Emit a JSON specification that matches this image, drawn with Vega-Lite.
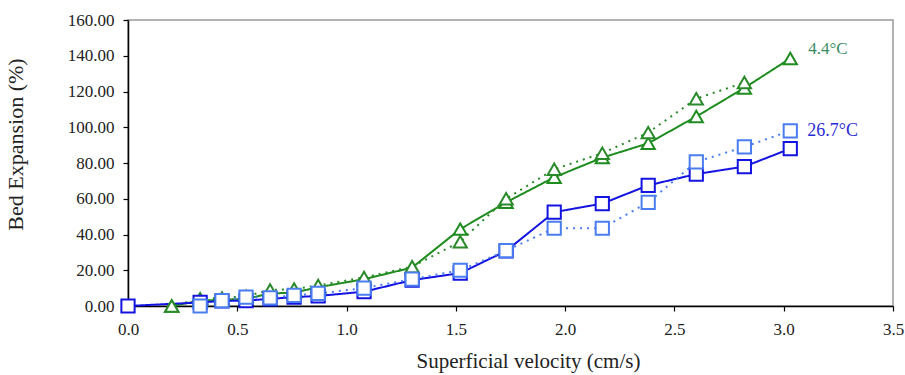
{
  "$schema": "https://vega.github.io/schema/vega-lite/v6.json",
  "width": 765,
  "height": 286,
  "autosize": {"type": "none"},
  "padding": {"left": 128, "top": 20, "right": 12, "bottom": 69},
  "background": "white",
  "config": {
    "view": {"stroke": "#999999", "strokeWidth": 1.5},
    "font": "Liberation Serif",
    "axis": {
      "labelFont": "Liberation Serif",
      "titleFont": "Liberation Serif",
      "labelColor": "#222222",
      "titleColor": "#222222",
      "titleFontWeight": "normal",
      "domainColor": "#000000",
      "tickColor": "#000000",
      "domainWidth": 1.5,
      "tickWidth": 1.2,
      "labelFlush": false,
      "grid": false
    }
  },
  "data": {
    "values": [
      {"velocity": 0.2, "expansion": 0, "series": "4.4°C run 1"},
      {"velocity": 0.33, "expansion": 3, "series": "4.4°C run 1"},
      {"velocity": 0.43, "expansion": 3.5, "series": "4.4°C run 1"},
      {"velocity": 0.54, "expansion": 4, "series": "4.4°C run 1"},
      {"velocity": 0.65, "expansion": 7, "series": "4.4°C run 1"},
      {"velocity": 0.76, "expansion": 7.5, "series": "4.4°C run 1"},
      {"velocity": 0.87, "expansion": 10.5, "series": "4.4°C run 1"},
      {"velocity": 1.08, "expansion": 15, "series": "4.4°C run 1"},
      {"velocity": 1.3, "expansion": 21.5, "series": "4.4°C run 1"},
      {"velocity": 1.52, "expansion": 43, "series": "4.4°C run 1"},
      {"velocity": 1.73, "expansion": 58, "series": "4.4°C run 1"},
      {"velocity": 1.95, "expansion": 72, "series": "4.4°C run 1"},
      {"velocity": 2.17, "expansion": 83, "series": "4.4°C run 1"},
      {"velocity": 2.38, "expansion": 91, "series": "4.4°C run 1"},
      {"velocity": 2.6, "expansion": 106, "series": "4.4°C run 1"},
      {"velocity": 2.82, "expansion": 122, "series": "4.4°C run 1"},
      {"velocity": 3.03, "expansion": 138.5, "series": "4.4°C run 1"},
      {"velocity": 0.2, "expansion": 0, "series": "4.4°C run 2"},
      {"velocity": 0.33, "expansion": 4, "series": "4.4°C run 2"},
      {"velocity": 0.43, "expansion": 4.5, "series": "4.4°C run 2"},
      {"velocity": 0.54, "expansion": 5.5, "series": "4.4°C run 2"},
      {"velocity": 0.65, "expansion": 9, "series": "4.4°C run 2"},
      {"velocity": 0.76, "expansion": 9.5, "series": "4.4°C run 2"},
      {"velocity": 0.87, "expansion": 11.5, "series": "4.4°C run 2"},
      {"velocity": 1.08, "expansion": 16, "series": "4.4°C run 2"},
      {"velocity": 1.3, "expansion": 22, "series": "4.4°C run 2"},
      {"velocity": 1.52, "expansion": 36, "series": "4.4°C run 2"},
      {"velocity": 1.73, "expansion": 60, "series": "4.4°C run 2"},
      {"velocity": 1.95, "expansion": 76.5, "series": "4.4°C run 2"},
      {"velocity": 2.17, "expansion": 85.5, "series": "4.4°C run 2"},
      {"velocity": 2.38, "expansion": 97, "series": "4.4°C run 2"},
      {"velocity": 2.6, "expansion": 116, "series": "4.4°C run 2"},
      {"velocity": 2.82, "expansion": 125, "series": "4.4°C run 2"},
      {"velocity": 0.0, "expansion": 0, "series": "26.7°C run 1"},
      {"velocity": 0.33, "expansion": 2, "series": "26.7°C run 1"},
      {"velocity": 0.43, "expansion": 2.8, "series": "26.7°C run 1"},
      {"velocity": 0.54, "expansion": 3, "series": "26.7°C run 1"},
      {"velocity": 0.65, "expansion": 4, "series": "26.7°C run 1"},
      {"velocity": 0.76, "expansion": 5, "series": "26.7°C run 1"},
      {"velocity": 0.87, "expansion": 5.6, "series": "26.7°C run 1"},
      {"velocity": 1.08, "expansion": 8, "series": "26.7°C run 1"},
      {"velocity": 1.3, "expansion": 14.5, "series": "26.7°C run 1"},
      {"velocity": 1.52, "expansion": 18.4, "series": "26.7°C run 1"},
      {"velocity": 1.73, "expansion": 30.8, "series": "26.7°C run 1"},
      {"velocity": 1.95, "expansion": 52.5, "series": "26.7°C run 1"},
      {"velocity": 2.17, "expansion": 57.3, "series": "26.7°C run 1"},
      {"velocity": 2.38, "expansion": 67.5, "series": "26.7°C run 1"},
      {"velocity": 2.6, "expansion": 73.8, "series": "26.7°C run 1"},
      {"velocity": 2.82, "expansion": 78, "series": "26.7°C run 1"},
      {"velocity": 3.03, "expansion": 88, "series": "26.7°C run 1"},
      {"velocity": 0.33, "expansion": 0, "series": "26.7°C run 2"},
      {"velocity": 0.43, "expansion": 3, "series": "26.7°C run 2"},
      {"velocity": 0.54, "expansion": 5, "series": "26.7°C run 2"},
      {"velocity": 0.65, "expansion": 4.5, "series": "26.7°C run 2"},
      {"velocity": 0.76, "expansion": 6, "series": "26.7°C run 2"},
      {"velocity": 0.87, "expansion": 7, "series": "26.7°C run 2"},
      {"velocity": 1.08, "expansion": 10, "series": "26.7°C run 2"},
      {"velocity": 1.3, "expansion": 15, "series": "26.7°C run 2"},
      {"velocity": 1.52, "expansion": 20, "series": "26.7°C run 2"},
      {"velocity": 1.73, "expansion": 31, "series": "26.7°C run 2"},
      {"velocity": 1.95, "expansion": 43.5, "series": "26.7°C run 2"},
      {"velocity": 2.17, "expansion": 43.5, "series": "26.7°C run 2"},
      {"velocity": 2.38, "expansion": 58, "series": "26.7°C run 2"},
      {"velocity": 2.6, "expansion": 80.6, "series": "26.7°C run 2"},
      {"velocity": 2.82, "expansion": 89, "series": "26.7°C run 2"},
      {"velocity": 3.03, "expansion": 98, "series": "26.7°C run 2"}
    ]
  },
  "encoding": {
    "x": {
      "field": "velocity", "type": "quantitative",
      "scale": {"domain": [0, 3.5], "nice": false, "zero": false},
      "axis": {"values": [0, 0.5, 1, 1.5, 2, 2.5, 3, 3.5], "format": ".1f", "title": "Superficial velocity (cm/s)",
               "labelFontSize": 17, "titleFontSize": 21, "tickSize": 5, "labelPadding": 10, "titlePadding": 13, "titleX": 400}
    },
    "y": {
      "field": "expansion", "type": "quantitative",
      "scale": {"domain": [0, 160], "nice": false},
      "axis": {"values": [0, 20, 40, 60, 80, 100, 120, 140, 160], "format": ".2f", "title": "Bed Expansion (%)",
               "labelFontSize": 17, "titleFontSize": 22, "tickSize": 5, "labelPadding": 9, "titleY": 124, "titleX": -101, "titleBaseline": "bottom"}
    }
  },
  "layer": [
    {
      "mark": {"type": "line", "strokeWidth": 2},
      "encoding": {
        "color": {"field": "series", "type": "nominal", "legend": null,
          "scale": {"domain": ["4.4°C run 1", "4.4°C run 2", "26.7°C run 1", "26.7°C run 2"],
                    "range": ["#1f8c1f", "#2a8a2a", "#1414e0", "#4a7df0"]}},
        "strokeDash": {"field": "series", "type": "nominal", "legend": null,
          "scale": {"domain": ["4.4°C run 1", "4.4°C run 2", "26.7°C run 1", "26.7°C run 2"],
                    "range": [[1, 0], [2, 5], [1, 0], [2, 5]]}},
        "order": {"field": "velocity"}
      }
    },
    {
      "mark": {"type": "point", "filled": true, "fill": "white", "strokeWidth": 2, "opacity": 1},
      "encoding": {
        "stroke": {"field": "series", "type": "nominal", "legend": null,
          "scale": {"domain": ["4.4°C run 1", "4.4°C run 2", "26.7°C run 1", "26.7°C run 2"],
                    "range": ["#1f8c1f", "#2a8a2a", "#1414e0", "#4a7df0"]}},
        "shape": {"field": "series", "type": "nominal", "legend": null,
          "scale": {"domain": ["4.4°C run 1", "4.4°C run 2", "26.7°C run 1", "26.7°C run 2"],
                    "range": ["triangle-up", "triangle-up", "square", "square"]}},
        "size": {"field": "series", "type": "nominal", "legend": null,
          "scale": {"domain": ["4.4°C run 1", "4.4°C run 2", "26.7°C run 1", "26.7°C run 2"],
                    "range": [175, 175, 165, 150]}}
      }
    },
    {
      "transform": [{"filter": "datum.series == '4.4°C run 1' && datum.velocity == 3.03"}],
      "mark": {"type": "text", "align": "left", "baseline": "middle", "dx": 18, "dy": -9, "fontSize": 17, "font": "Liberation Serif", "color": "#3a8c62"},
      "encoding": {"text": {"value": "4.4°C"}}
    },
    {
      "transform": [{"filter": "datum.series == '26.7°C run 2' && datum.velocity == 3.03"}],
      "mark": {"type": "text", "align": "left", "baseline": "middle", "dx": 17, "dy": 0, "fontSize": 18, "font": "Liberation Serif", "color": "#2b2bd6"},
      "encoding": {"text": {"value": "26.7°C"}}
    }
  ]
}
